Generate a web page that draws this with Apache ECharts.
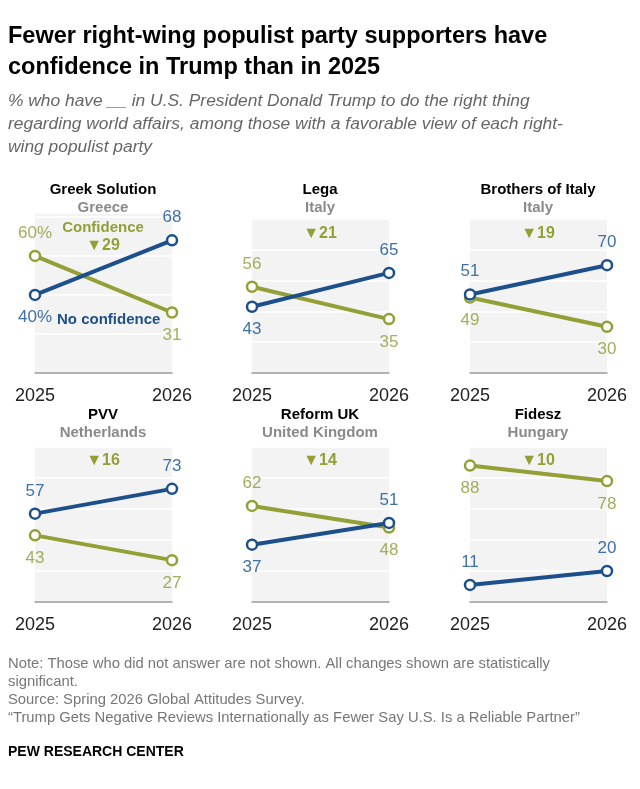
<!DOCTYPE html>
<html><head><meta charset="utf-8">
<script src="https://cdn.jsdelivr.net/npm/echarts@6/dist/echarts.min.js"></script>
<style>body{margin:0;background:#fff}#c{width:640px;height:789px}</style></head>
<body><div id="c"></div>
<script>
const years = ['2025','2026'];
const parties = ['Greek Solution','Lega','Brothers of Italy','PVV','Reform UK','Fidesz'];
const countries = ['Greece','Italy','Italy','Netherlands','United Kingdom','Hungary'];
const confidence = [[60,31],[56,35],[49,30],[43,27],[62,48],[88,78]];
const noConfidence = [[40,68],[43,65],[51,70],[57,73],[37,51],[11,20]];
const drops = [29,21,19,16,14,10];

const GREEN='#949f35', BLUE='#1d508b', GL='#a3ad5c', BL='#3f70a8';
const F='Liberation Sans, Arial, sans-serif';
const lefts=[35,252,470], bottoms=[373,602];
const confPos=[['top','bottom'],['top','bottom'],['bottom','bottom'],['bottom','bottom'],['top','bottom'],['bottom','bottom']];
const noPos=[['bottom','top'],['bottom','top'],['top','top'],['top','top'],['bottom','top'],['top','top']];
const grid=[],xAxis=[],yAxis=[],series=[],graphic=[];
for(let i=0;i<6;i++){
  const r=Math.floor(i/3),c=i%3;
  const top=(i===0)?213:(r===0?219:447);
  grid.push({left:lefts[c],width:137,top:top,height:bottoms[r]-top,show:true,backgroundColor:'#f3f3f3',borderWidth:0});
  xAxis.push({gridIndex:i,type:'category',data:years,boundaryGap:false,
    axisLine:{lineStyle:{color:'#9a9a9a',width:1.5}},axisTick:{show:false},
    axisLabel:{color:'#222',fontSize:18,fontFamily:F,margin:14}});
  yAxis.push({gridIndex:i,type:'value',min:0,max:i===0?82:100,interval:20,axisLabel:{show:false},
    axisLine:{show:false},axisTick:{show:false},splitLine:{lineStyle:{color:'#fff',width:1.5}}});
  const mk=(vals,col,lc,pos,pct,isConf)=>({type:'line',xAxisIndex:i,yAxisIndex:i,z:isConf?3:4,
    data:vals.map((v,j)=>({value:v,label:{position:pos[j],
      formatter:(pct&&j===0)?v+'%':String(v)}})),
    symbol:'circle',symbolSize:10,lineStyle:{color:col,width:4},
    itemStyle:{color:'#fff',borderColor:col,borderWidth:2.5},
    label:{show:true,color:lc,fontSize:17,fontFamily:F,distance:8}});
  series.push(mk(confidence[i],GREEN,GL,confPos[i],i===0,true));
  series.push(mk(noConfidence[i],BLUE,BL,noPos[i],i===0,false));
  const cx=lefts[c]+68, ty=r===0?182:407;
  graphic.push({type:'text',z:100,x:cx,y:ty,style:{text:parties[i],font:'bold 15px '+F,fill:'#000',textAlign:'center'}});
  graphic.push({type:'text',z:100,x:cx,y:ty+18,style:{text:countries[i],font:'bold 15px '+F,fill:'#8a8a8a',textAlign:'center'}});
  graphic.push({type:'text',z:100,x:cx,y:(i===0?238:(r===0?226:453)),style:{text:'▼'+drops[i],font:'bold 16px '+F,fill:GREEN,textAlign:'center'}});
}
graphic.push({type:'text',z:100,x:103,y:220,style:{text:'Confidence',font:'bold 15px '+F,fill:GREEN,textAlign:'center'}});
graphic.push({type:'text',z:100,x:57,y:312,style:{text:'No confidence',font:'bold 15px '+F,fill:BLUE}});
graphic.push({type:'text',x:8,y:21,style:{text:'Fewer right-wing populist party supporters have\nconfidence in Trump than in 2025',font:'bold 23.5px '+F,fill:'#000',lineHeight:31}});
graphic.push({type:'text',x:8,y:90,style:{text:'% who have __ in U.S. President Donald Trump to do the right thing\nregarding world affairs, among those with a favorable view of each right-\nwing populist party',font:'italic 17.4px '+F,fill:'#666',lineHeight:23}});
graphic.push({type:'text',x:8,y:655,style:{text:'Note: Those who did not answer are not shown. All changes shown are statistically\nsignificant.\nSource: Spring 2026 Global Attitudes Survey.\n“Trump Gets Negative Reviews Internationally as Fewer Say U.S. Is a Reliable Partner”',font:'14.8px '+F,fill:'#777',lineHeight:18}});
graphic.push({type:'text',x:8,y:745,style:{text:'PEW RESEARCH CENTER',font:'bold 14px '+F,fill:'#000'}});
echarts.init(document.getElementById('c')).setOption({animation:false,grid,xAxis,yAxis,series,graphic});
</script></body></html>
